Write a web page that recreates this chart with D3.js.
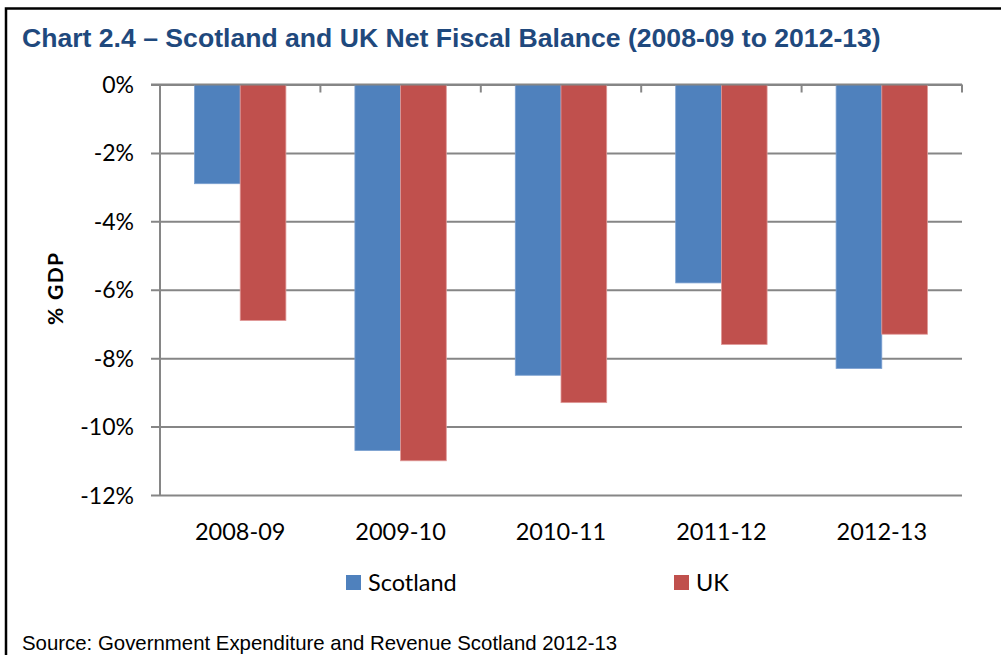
<!DOCTYPE html>
<html>
<head>
<meta charset="utf-8">
<script src="https://cdn.jsdelivr.net/npm/d3@7/dist/d3.min.js"></script>
<style>
  html, body { margin: 0; padding: 0; background: #fff; }
  svg { display: block; }
</style>
</head>
<body>
<svg id="chart" width="1001" height="655"></svg>
<script>
// Net fiscal balance as % of GDP
const years = ["2008-09", "2009-10", "2010-11", "2011-12", "2012-13"];
const seriesNames = ["Scotland", "UK"];
const scotland = [-2.9, -10.7, -8.5, -5.8, -8.3];
const uk = [-6.9, -11.0, -9.3, -7.6, -7.3];
const yTicks = [0, -2, -4, -6, -8, -10, -12];
const colors = ["#4F81BD", "#C0504D"];
const edgeColors = ["#7A9FD0", "#E09A98"];

const svg = d3.select("#chart");
const W = 1001, H = 655;
const plot = { left: 160, right: 962, top: 84.5, bottom: 495 };

svg.append("rect").attr("width", W).attr("height", H).attr("fill", "#fff");

// frame around the figure
svg.append("path")
  .attr("d", `M6,${H} L6,8.5 L${W},8.5`)
  .attr("fill", "none").attr("stroke", "#000").attr("stroke-width", 2.5);

// title
svg.append("text")
  .attr("x", 22).attr("y", 47)
  .attr("font-family", "'Liberation Sans', Arial, sans-serif")
  .attr("font-weight", "bold").attr("font-size", 26.6)
  .attr("fill", "#1F497D")
  .text("Chart 2.4 \u2013 Scotland and UK Net Fiscal Balance (2008-09 to 2012-13)");

// source note
svg.append("text")
  .attr("x", 22).attr("y", 650)
  .attr("font-family", "'Liberation Sans', Arial, sans-serif")
  .attr("font-size", 20.4).attr("fill", "#000")
  .text("Source: Government Expenditure and Revenue Scotland 2012-13");

const x = d3.scaleBand().domain(years).range([plot.left, plot.right]).paddingInner(0).paddingOuter(0);
const xs = d3.scaleBand().domain(seriesNames).range([0, x.bandwidth()]).paddingInner(0).paddingOuter(0.755);
const y = d3.scaleLinear().domain([-12, 0]).range([plot.bottom, plot.top]);

const gridColor = "#868686";
const labelFont = "Lato, 'Open Sans', sans-serif";

// horizontal gridlines with outside tick marks
const yAxis = d3.axisLeft(y).tickValues(yTicks)
  .tickSize(-(plot.right - plot.left)).tickSizeOuter(0)
  .tickFormat(d => d + "%");
const gy = svg.append("g").attr("transform", `translate(${plot.left},0)`).call(yAxis);
gy.select(".domain").remove();
gy.selectAll(".tick line")
  .attr("x1", -9)
  .attr("stroke", gridColor).attr("stroke-width", 2);
gy.selectAll(".tick text")
  .attr("x", -26).attr("dy", "0.35em")
  .attr("font-family", labelFont).attr("font-size", 23).attr("fill", "#000");

// bars
const data = years.map((yr, i) => ({ year: yr, values: [scotland[i], uk[i]] }));
const groups = svg.append("g").selectAll("g").data(data).join("g")
  .attr("transform", d => `translate(${x(d.year)},0)`);
groups.selectAll("rect")
  .data(d => d.values.map((v, j) => ({ name: seriesNames[j], value: v, j })))
  .join("rect")
  .attr("x", d => xs(d.name))
  .attr("y", d => y(Math.max(0, d.value)))
  .attr("width", xs.bandwidth())
  .attr("height", d => Math.abs(y(d.value) - y(0)))
  .attr("fill", d => colors[d.j])
  .attr("stroke", d => edgeColors[d.j]).attr("stroke-width", 0.8);

// vertical axis line
svg.append("line")
  .attr("x1", plot.left).attr("x2", plot.left)
  .attr("y1", plot.top).attr("y2", plot.bottom)
  .attr("stroke", gridColor).attr("stroke-width", 2);

// category axis along the zero line, ticks pointing into the plot
const boundaries = years.map(d => x(d)).concat([x(years[years.length - 1]) + x.bandwidth()]);
svg.append("g").selectAll("line").data(boundaries).join("line")
  .attr("x1", d => d).attr("x2", d => d)
  .attr("y1", y(0)).attr("y2", y(0) + 8)
  .attr("stroke", gridColor).attr("stroke-width", 2);
svg.append("line")
  .attr("x1", plot.left - 9).attr("x2", plot.right)
  .attr("y1", y(0)).attr("y2", y(0))
  .attr("stroke", gridColor).attr("stroke-width", 2);

// category labels below the plot
svg.append("g").selectAll("text").data(years).join("text")
  .attr("x", d => x(d) + x.bandwidth() / 2)
  .attr("y", 540)
  .attr("text-anchor", "middle")
  .attr("font-family", labelFont).attr("font-size", 23.5).attr("fill", "#000")
  .text(d => d);

// y axis title
svg.append("text")
  .attr("transform", "translate(63,289) rotate(-90)")
  .attr("text-anchor", "middle")
  .attr("font-family", labelFont).attr("font-weight", "bold").attr("font-size", 21)
  .attr("textLength", 72).attr("lengthAdjust", "spacing")
  .attr("fill", "#000")
  .text("% GDP");

// legend
const legendX = [346, 674];
const legend = svg.append("g").selectAll("g").data(seriesNames).join("g")
  .attr("transform", (d, i) => `translate(${legendX[i]},575)`);
legend.append("rect").attr("width", 15).attr("height", 15)
  .attr("fill", (d, i) => colors[i]);
legend.append("text")
  .attr("x", 22).attr("y", 15.5)
  .attr("font-family", labelFont).attr("font-size", 23.5).attr("fill", "#000")
  .text(d => d);
</script>
</body>
</html>
